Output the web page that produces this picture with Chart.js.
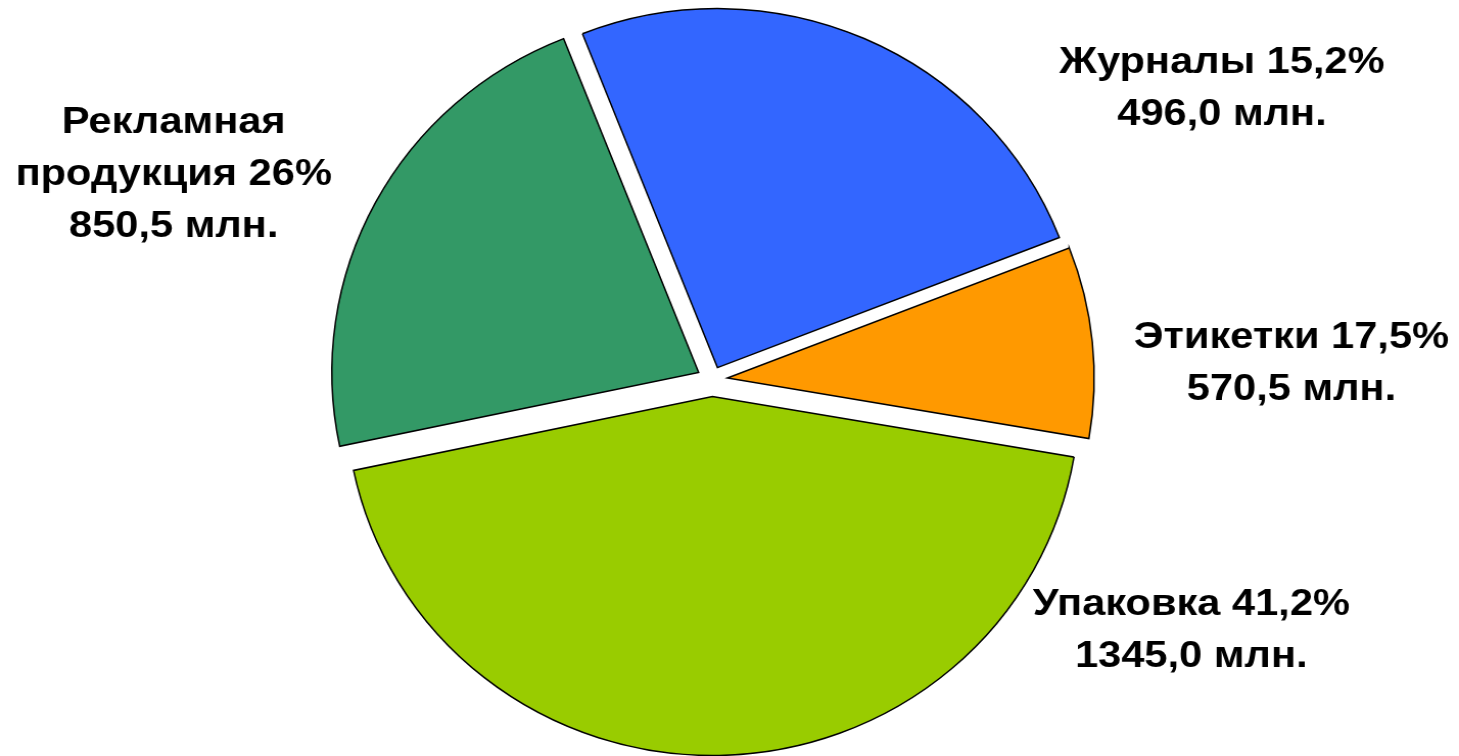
<!DOCTYPE html>
<html>
<head>
<meta charset="utf-8">
<script src="https://cdn.jsdelivr.net/npm/chart.js@4"></script>
<style>
  html, body { margin: 0; padding: 0; background: #fff; overflow: hidden; }
  /* the reference pie is a little wider than tall, so the canvas is drawn narrow and stretched */
  #pie { display: block; width: 1459px; height: 756px; }
</style>
</head>
<body>
<canvas id="pie" width="1428" height="756" style="width:1459px;height:756px"></canvas>
<script>
// slices, clockwise from the top-left edge of the blue one
const categories = ["Журналы", "Этикетки", "Упаковка", "Рекламная продукция"];
// label lines for each category (last line gets the percent)
const categoryLines = [["Журналы"], ["Этикетки"], ["Упаковка"], ["Рекламная", "продукция"]];
const percentLabels = ["15,2%", "17,5%", "41,2%", "26%"];
const millionLabels = ["496,0", "570,5", "1345,0", "850,5"];
const sliceShares = [25.1, 8.6, 44.0, 22.3];

const sliceColors = ["#3366FF", "#FF9900", "#99CC00", "#339966"];
// how far each slice is pulled out from the centre (px)
const explode = [13, 15, 17, 15];
// label anchors: centre x, first baseline y (canvas units)
const labelAnchors = [[1196, 73], [1264, 348], [1166, 615], [170, 133]];
const lineHeight = 52;

const labelFont = 'bold 37px "Liberation Sans", Arial, sans-serif';
const textScaleX = 1.1;

/** Pull slices out without growing them (the built-in offset also enlarges big slices) */
const explodeSlices = {
  id: "explodeSlices",
  afterDatasetUpdate(chart, args) {
    const arcs = chart.getDatasetMeta(args.index).data;
    arcs.forEach((arc, i) => {
      const mid = (arc.startAngle + arc.endAngle) / 2;
      arc.x += Math.cos(mid) * explode[i];
      arc.y += Math.sin(mid) * explode[i];
    });
  },
};

/** Text labels next to slices */
const sliceLabels = {
  id: "sliceLabels",
  afterDraw(chart) {
    const ctx = chart.ctx;
    ctx.save();
    ctx.font = labelFont;
    ctx.fillStyle = "#000";
    ctx.textAlign = "center";
    ctx.textBaseline = "alphabetic";
    categories.forEach((cat, i) => {
      const lines = categoryLines[i].slice();
      lines[lines.length - 1] += " " + percentLabels[i];
      lines.push(millionLabels[i] + " млн.");
      const [x, y] = labelAnchors[i];
      ctx.save();
      ctx.translate(x, 0);
      ctx.scale(textScaleX, 1);
      lines.forEach((line, j) => ctx.fillText(line, 0, y + j * lineHeight));
      ctx.restore();
    });
    ctx.restore();
  },
};

const ctx = document.getElementById("pie").getContext("2d");
new Chart(ctx, {
  type: "pie",
  data: {
    labels: categories,
    datasets: [
      {
        data: sliceShares,
        backgroundColor: sliceColors,
        borderColor: "#000",
        borderWidth: 1.5,
        borderJoinStyle: "miter",
      },
    ],
  },
  options: {
    responsive: false,
    animation: false,
    rotation: 338.4,
    radius: 359,
    layout: { padding: { left: 0, right: 34, top: 3, bottom: 0 } },
    plugins: {
      legend: { display: false },
      tooltip: { enabled: false },
    },
  },
  plugins: [explodeSlices, sliceLabels],
});
</script>
</body>
</html>
